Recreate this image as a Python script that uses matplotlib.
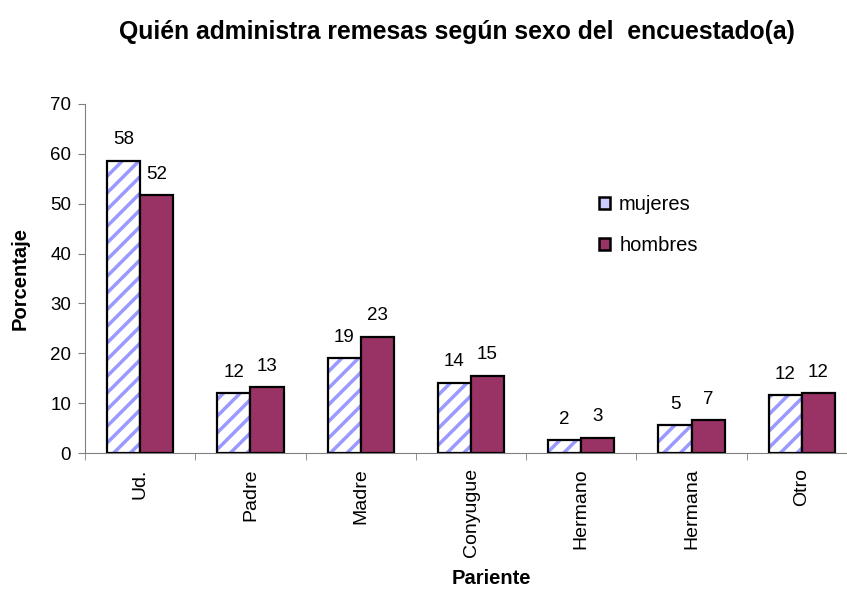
import matplotlib
matplotlib.use('Agg')
from matplotlib import pyplot as plt
from matplotlib.patches import Patch
import numpy as np

# Datos
categorias = ['Ud.', 'Padre', 'Madre', 'Conyugue', 'Hermano', 'Hermana', 'Otro']
mujeres = [58.6, 12.0, 19.0, 14.1, 2.6, 5.6, 11.6]
hombres = [51.7, 13.2, 23.3, 15.5, 3.1, 6.6, 12.0]
etiquetas_mujeres = ['58', '12', '19', '14', '2', '5', '12']
etiquetas_hombres = ['52', '13', '23', '15', '3', '7', '12']

plt.rcParams['font.family'] = ['Liberation Sans', 'DejaVu Sans']
plt.rcParams['hatch.linewidth'] = 2.5

fig = plt.figure(figsize=(8.47, 5.92), dpi=100)
ax = fig.add_axes([85/847, 1-453/592, 772/847, 349/592])

x = np.arange(len(categorias))
ancho = 0.3
color_h = '#993366'
color_m = '#9999FF'

# mujeres: fondo blanco con rayas y borde negro por separado
ax.bar(x - ancho/2, mujeres, ancho, color='white', edgecolor=color_m, hatch='//', linewidth=0, zorder=2)
ax.bar(x - ancho/2, mujeres, ancho, fill=False, edgecolor='black', linewidth=1.6, zorder=3)
ax.bar(x + ancho/2, hombres, ancho, color=color_h, edgecolor='black', linewidth=1.6, zorder=3)

for i in range(len(categorias)):
    ax.annotate(etiquetas_mujeres[i], (x[i] - ancho/2, mujeres[i]), xytext=(0, 9),
                textcoords='offset points', ha='center', va='bottom', fontsize=13.5)
    ax.annotate(etiquetas_hombres[i], (x[i] + ancho/2, hombres[i]), xytext=(0, 9),
                textcoords='offset points', ha='center', va='bottom', fontsize=13.5)

ax.set_xlim(-0.5, len(categorias) - 0.5)
ax.set_ylim(0, 70)
ax.set_yticks(range(0, 71, 10))
ax.set_xticks(x)
ax.set_xticklabels(categorias, rotation=90, fontsize=14)
ax.set_xticks(np.arange(-0.5, len(categorias), 1), minor=True)
ax.tick_params(axis='x', which='major', length=0, pad=11)
ax.tick_params(axis='x', which='minor', length=5, color='#808080')
ax.tick_params(axis='y', labelsize=13.5, length=5, color='#808080', pad=5)

for s in ['top', 'right']:
    ax.spines[s].set_visible(False)
ax.spines['left'].set_color('#808080')
ax.spines['bottom'].set_color('#808080')

ax.set_ylabel('Porcentaje', fontsize=14.5, fontweight='bold')
ax.yaxis.set_label_coords(-(85 - 30)/772, 0.5)
ax.set_xlabel('Pariente', fontsize=14.5, fontweight='bold')
ax.xaxis.set_label_coords((491 - 85)/772, -(569 - 453)/349)
fig.text(457/847, 1 - 32/592, 'Quién administra remesas según sexo del  encuestado(a)',
         ha='center', va='center', fontsize=17.8, fontweight='bold')

manejadores = [Patch(facecolor='#ccccff', edgecolor='black', linewidth=1.8, label='mujeres'),
               Patch(facecolor=color_h, edgecolor='black', linewidth=1.8, label='hombres')]
fig.legend(handles=manejadores, loc='upper left', bbox_to_anchor=(599/847, 1 - 195/592), frameon=False,
           fontsize=14.5, handlelength=0.55, handleheight=0.55, handletextpad=0.45,
           labelspacing=1.1, borderpad=0, borderaxespad=0)

fig.savefig('out.png', dpi=100)
